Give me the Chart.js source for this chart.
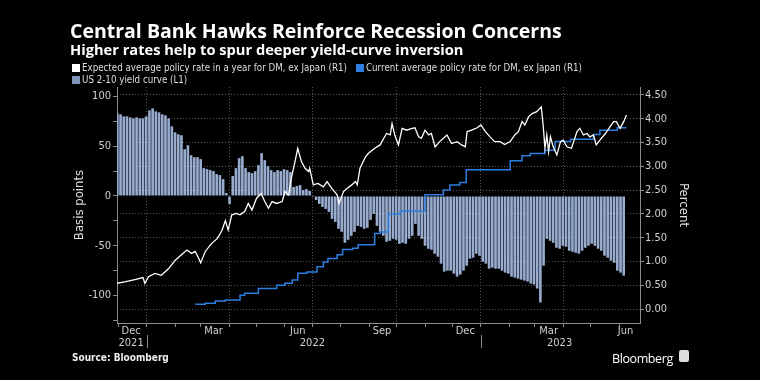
<!DOCTYPE html>
<html>
<head>
<meta charset="utf-8">
<script src="https://cdn.jsdelivr.net/npm/chart.js@4.4.1/dist/chart.umd.min.js"></script>
<style>
  html, body { margin: 0; background: #000; width: 760px; height: 380px; overflow: hidden; }
  #wrap { position: relative; width: 760px; height: 380px; }
  canvas { position: absolute; left: 0; top: 0; }
  .txt { position: absolute; color: #fff; white-space: nowrap; line-height: 1; }
  #title { left: 70px; top: 17px; font: 700 19.5px "Open Sans", sans-serif; }
  #subtitle { left: 70px; top: 39px; font: 700 14.65px "Open Sans", sans-serif; }
  .leg { position: absolute; color: #ddd; white-space: nowrap; font: 9.7px "DejaVu Sans Condensed", sans-serif; line-height: 1; }
  .leg i { display: inline-block; width: 8px; height: 8px; margin-right: 2px; vertical-align: -1px; }
  #source { left: 72px; top: 352px; font: 700 10px "DejaVu Sans Condensed", sans-serif; color: #eee; }
  #brand { left: 612px; top: 350px; font: 12.5px "Open Sans", sans-serif; letter-spacing: -0.4px; }
  #logo { position: absolute; left: 679px; top: 350px; width: 10px; height: 12px; background: #ddd; border-radius: 2px; }
</style>
</head>
<body>
<div id="wrap">
  <canvas id="chart" width="760" height="380"></canvas>
  <div class="txt" id="title">Central Bank Hawks Reinforce Recession Concerns</div>
  <div class="txt" id="subtitle">Higher rates help to spur deeper yield-curve inversion</div>
  <div class="leg" style="left:72px;top:63px"><i style="background:#fff"></i>Expected average policy rate in a year for DM, ex Japan (R1)</div>
  <div class="leg" style="left:356px;top:63px"><i style="background:#2d7ee0"></i>Current average policy rate for DM, ex Japan (R1)</div>
  <div class="leg" style="left:72px;top:75px"><i style="background:#8196bb"></i>US 2-10 yield curve (L1)</div>
  <div class="txt" id="source">Source: Bloomberg</div>
  <div class="txt" id="brand">Bloomberg</div>
  <div id="logo"></div>
</div>
<script>
// ─── Data ────────────────────────────────────────────────
// US 2-10 yield curve, basis points, two readings a week from 30 Nov 2021
const curveStart = '2021-11-30';
const curveStepDays = 3.5;
const curveBp = [
  83, 82, 80, 80, 79, 78, 79, 78, 78, 80,
  86, 88, 85, 84, 82, 81, 78, 70, 64, 62,
  61, 47, 51, 41, 39, 39, 37, 28, 27, 26,
  25, 22, 21, 17, 3, -8, 20, 28, 38, 40,
  28, 24, 23, 25, 31, 43, 36, 30, 26, 24,
  26, 25, 27, 26, 24, 9, 10, 11, 6, 7,
  5, -1, -4, -8, -11, -13, -16, -23, -26, -33,
  -36, -47, -44, -40, -36, -30, -31, -33, -32, -24,
  -18, -30, -36, -40, -46, -45, -43, -44, -48, -47,
  -48, -43, -40, -28, -40, -43, -50, -53, -54, -58,
  -61, -68, -76, -75, -75, -78, -81, -79, -75, -70,
  -63, -62, -58, -60, -66, -68, -73, -72, -73, -73,
  -75, -77, -78, -81, -82, -83, -84, -85, -86, -88,
  -89, -93, -107, -70, -43, -45, -47, -52, -53, -50,
  -51, -55, -56, -57, -58, -55, -52, -50, -48, -50,
  -53, -55, -60, -62, -65, -67, -75, -77, -80
];

// expected policy rate in a year (percent), days counted from 1 Jan 2022
const expectedDay = [
  -33, -24, -13, -4, -2, 2, 9, 16, 24, 31,
  38, 44, 49, 53, 56, 59, 64, 71, 77, 82,
  86, 89, 93, 98, 102, 107, 111, 115, 120, 125,
  129, 133, 137, 142, 148, 151, 155, 158, 162, 165,
  167, 169, 173, 177, 178, 182, 187, 193, 197, 202,
  208, 210, 215, 219, 224, 228, 230, 233, 239, 242,
  249, 255, 259, 262, 266, 268, 271, 275, 279, 284,
  290, 293, 297, 300, 304, 308, 311, 315, 320, 328,
  333, 339, 344, 348, 350, 355, 361, 365, 370, 375,
  380, 386, 391, 397, 402, 406, 410, 413, 417, 421,
  426, 431, 433, 435, 437, 439, 441, 444, 448, 452,
  455, 459, 464, 470, 473, 477, 481, 484, 488, 491,
  495, 501, 506, 510, 513, 517, 521, 524
];
const expectedRate = [
  0.54, 0.57, 0.62, 0.66, 0.54, 0.68, 0.75, 0.71, 0.85, 1.02,
  1.14, 1.24, 1.17, 1.21, 1.10, 0.97, 1.21, 1.38, 1.48, 1.64,
  1.86, 1.66, 1.98, 2.01, 1.98, 2.05, 2.22, 2.08, 2.33, 2.43,
  2.26, 2.12, 2.26, 2.22, 2.26, 2.47, 2.40, 2.75, 3.10, 3.38,
  3.24, 3.10, 2.96, 2.89, 2.96, 2.61, 2.64, 2.57, 2.68, 2.54,
  2.40, 2.22, 2.47, 2.54, 2.61, 2.68, 2.61, 2.96, 3.20, 3.27,
  3.38, 3.45, 3.59, 3.69, 3.66, 3.90, 3.66, 3.45, 3.80, 3.76,
  3.80, 3.81, 3.62, 3.59, 3.76, 3.66, 3.69, 3.41, 3.52, 3.66,
  3.48, 3.52, 3.45, 3.41, 3.73, 3.76, 3.81, 3.87, 3.73, 3.62,
  3.52, 3.52, 3.46, 3.52, 3.66, 3.73, 3.94, 3.87, 4.04, 4.11,
  4.15, 4.25, 3.87, 3.38, 3.66, 3.31, 3.62, 3.41, 3.24, 3.52,
  3.55, 3.41, 3.38, 3.73, 3.80, 3.66, 3.69, 3.62, 3.66, 3.45,
  3.55, 3.69, 3.83, 3.94, 3.94, 3.80, 3.94, 4.08
];

// current policy rate (percent), step changes, days from 1 Jan 2022
const currentDay = [
  53, 64, 75, 86, 102, 107, 122, 142, 151, 159,
  165, 175, 186, 193, 198, 208, 214, 225, 231, 249,
  255, 264, 277, 304, 324, 331, 342, 349, 397, 410,
  419, 435, 446, 463, 488, 495, 514, 524
];
const currentRate = [
  0.10, 0.12, 0.17, 0.19, 0.29, 0.33, 0.43, 0.50, 0.54, 0.61,
  0.75, 0.78, 0.89, 0.99, 1.06, 1.14, 1.25, 1.28, 1.35, 1.59,
  1.62, 2.00, 2.06, 2.40, 2.50, 2.61, 2.66, 2.93, 3.12, 3.22,
  3.27, 3.34, 3.52, 3.57, 3.67, 3.76, 3.81, 3.81
];

// axis labels
const monthLabels = ['Dec', 'Mar', 'Jun', 'Sep', 'Dec', 'Mar', 'Jun'];
const monthLabelAt = ['2021-12-15', '2022-03-15', '2022-06-15', '2022-09-15', '2022-12-15', '2023-03-16', '2023-06-08'];
const yearLabels = ['2021', '2022', '2023'];
const yearLabelAt = ['2021-12-15', '2022-07-01', '2023-03-28'];
const bpTicks = [100, 50, 0, -50, -100];

// ─── Helpers ─────────────────────────────────────────────
const t0 = Date.parse('2022-01-01');
const dayOf = s => Math.round((Date.parse(s) - t0) / 864e5);

const c0 = dayOf(curveStart);
const curvePts = curveBp.map((v, i) => ({ x: c0 + curveStepDays * i, y: v }));
const expectedPts = expectedDay.map((d, i) => ({ x: d, y: expectedRate[i] }));
const currentPts = currentDay.map((d, i) => ({ x: d, y: currentRate[i] }));

// x ticks: month marks (grid on quarter starts), month labels, year labels
const xTicks = [];
for (let y = 2021, m = 11; y < 2023 || m <= 5; m++) {
  if (m > 11) { m = 0; y++; }
  const iso = y + '-' + String(m + 1).padStart(2, '0') + '-01';
  xTicks.push({ value: dayOf(iso), label: '', mark: true, grid: m % 3 === 0 });
}
monthLabelAt.forEach((d, i) => {
  const yi = yearLabelAt.indexOf(d);
  xTicks.push({ value: dayOf(d), label: yi >= 0 ? [monthLabels[i], yearLabels[yi]] : monthLabels[i], mark: false, grid: false });
});
yearLabelAt.forEach((d, i) => {
  if (monthLabelAt.indexOf(d) < 0) xTicks.push({ value: dayOf(d), label: ['', yearLabels[i]], mark: false, grid: false });
});

const axisCol = '#8c8c8c';
const gridCol = '#555';
const tickFont = { family: 'DejaVu Sans Condensed', size: 11, lineHeight: 1.1 };

const yearDividers = {
  id: 'yearDividers',
  afterDraw(chart) {
    const { ctx, scales: { x } } = chart;
    ctx.save();
    ctx.strokeStyle = axisCol;
    ctx.lineWidth = 1;
    ['2022-01-01', '2023-01-01'].forEach(d => {
      const px = Math.round(x.getPixelForValue(dayOf(d))) + 0.5;
      ctx.beginPath();
      ctx.moveTo(px, 335);
      ctx.lineTo(px, 348);
      ctx.stroke();
    });
    ctx.restore();
  }
};

new Chart(document.getElementById('chart'), {
  type: 'line',
  data: {
    datasets: [
      {
        type: 'line',
        label: 'Expected average policy rate in a year for DM, ex Japan (R1)',
        data: expectedPts,
        yAxisID: 'y1',
        borderColor: '#ffffff',
        borderWidth: 1.3,
        pointRadius: 0,
        tension: 0,
        order: 1
      },
      {
        type: 'line',
        label: 'Current average policy rate for DM, ex Japan (R1)',
        data: currentPts,
        yAxisID: 'y1',
        borderColor: '#2d7ee0',
        borderWidth: 1.5,
        pointRadius: 0,
        stepped: 'before',
        order: 2
      },
      {
        type: 'bar',
        label: 'US 2-10 yield curve (L1)',
        data: curvePts,
        yAxisID: 'y',
        backgroundColor: '#98acd0',
        borderWidth: 0,
        categoryPercentage: 1,
        barPercentage: 0.82,
        order: 3
      }
    ]
  },
  options: {
    responsive: false,
    animation: false,
    layout: { padding: { top: 87 } },
    plugins: { legend: { display: false }, tooltip: { enabled: false } },
    scales: {
      x: {
        type: 'linear',
        min: -32.4,
        max: 538.8,
        offset: false,
        afterFit: s => { s.height = 57; },
        afterBuildTicks: s => { s.ticks = xTicks.map(t => ({ value: t.value })); },
        ticks: {
          autoSkip: false, maxRotation: 0, minRotation: 0, padding: -2,
          color: '#d0d0d0', font: tickFont,
          callback: (v, i) => xTicks[i].label
        },
        grid: {
          offset: false,
          color: c => (xTicks[c.index] && xTicks[c.index].grid) ? gridCol : 'rgba(0,0,0,0)',
          tickColor: c => (xTicks[c.index] && xTicks[c.index].mark) ? axisCol : 'rgba(0,0,0,0)',
          tickLength: 4,
          tickBorderDash: []
        },
        border: { display: true, color: axisCol, dash: [1, 2] }
      },
      y: {
        position: 'left',
        min: -127.6,
        max: 109.5,
        afterFit: s => { s.width = 117; },
        afterBuildTicks: s => {
          const t = [];
          for (let v = -125; v <= 100; v += 25) t.push({ value: v });
          s.ticks = t;
        },
        ticks: {
          padding: 2, color: '#d0d0d0', font: tickFont,
          callback: v => bpTicks.includes(v) ? String(v) : ''
        },
        grid: { drawOnChartArea: false, tickLength: 4, tickColor: axisCol },
        border: { display: true, color: axisCol },
        title: {
          display: true, text: 'Basis points', color: '#e0e0e0',
          font: { family: 'DejaVu Sans Condensed', size: 13 },
          padding: { top: 72, bottom: 0 }
        }
      },
      y1: {
        position: 'right',
        min: -0.294,
        max: 4.668,
        afterFit: s => { s.width = 120; },
        afterBuildTicks: s => {
          const t = [];
          for (let k = 0; k <= 18; k++) t.push({ value: k * 0.25 });
          s.ticks = t;
        },
        ticks: {
          padding: 1, color: '#d0d0d0', font: tickFont,
          callback: (v, i) => i % 2 === 0 ? v.toFixed(2) : ''
        },
        grid: {
          color: c => (c.index % 2 === 0) ? gridCol : 'rgba(0,0,0,0)',
          tickColor: axisCol,
          tickLength: 4,
          tickBorderDash: []
        },
        border: { display: true, color: axisCol, dash: [1, 2] },
        title: {
          display: true, text: 'Percent', color: '#e0e0e0',
          font: { family: 'DejaVu Sans Condensed', size: 13 },
          padding: { top: 69, bottom: 0 }
        }
      }
    }
  },
  plugins: [yearDividers]
});
</script>
</body>
</html>
